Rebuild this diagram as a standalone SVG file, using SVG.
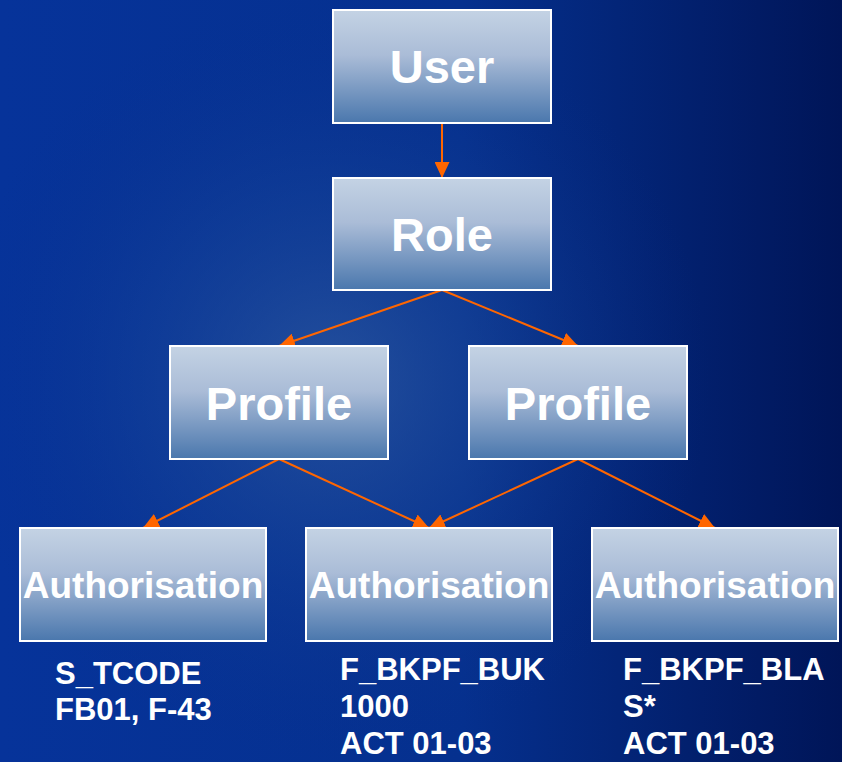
<svg xmlns="http://www.w3.org/2000/svg" width="842" height="762" viewBox="0 0 842 762">
  <defs>
    <linearGradient id="bg" x1="0" y1="0" x2="1" y2="0">
      <stop offset="0" stop-color="#06339a"/>
      <stop offset="0.55" stop-color="#05308e"/>
      <stop offset="1" stop-color="#001558"/>
    </linearGradient>
    <radialGradient id="glow" cx="330" cy="380" r="380" gradientUnits="userSpaceOnUse">
      <stop offset="0" stop-color="#2f5aa0" stop-opacity="0.75"/>
      <stop offset="0.5" stop-color="#1d4a9a" stop-opacity="0.35"/>
      <stop offset="1" stop-color="#0a2f8a" stop-opacity="0"/>
    </radialGradient>
    <linearGradient id="boxFill" x1="0" y1="0" x2="0" y2="1">
      <stop offset="0" stop-color="#c4d3e4"/>
      <stop offset="0.4" stop-color="#aabcd7"/>
      <stop offset="1" stop-color="#4a77ad"/>
    </linearGradient>
    <marker id="head" markerWidth="16" markerHeight="15" refX="16" refY="7.5" orient="auto" markerUnits="userSpaceOnUse">
      <path d="M0,0 L16,7.5 L0,15 Z" fill="#ff6600"/>
    </marker>
    <style>
      .box { fill: url(#boxFill); stroke: #ffffff; stroke-width: 2; }
      .label { fill: #ffffff; font-family: "Liberation Sans", Arial, sans-serif; font-weight: bold; text-anchor: middle; }
      .big { font-size: 47px; }
      .auth { font-size: 37px; }
      .note { fill: #ffffff; font-family: "Liberation Sans", Arial, sans-serif; font-weight: bold; font-size: 31px; }
      .link { stroke: #ff6600; stroke-width: 2; fill: none; marker-end: url(#head); }
    </style>
  </defs>

  <!-- backdrop -->
  <rect x="0" y="0" width="842" height="762" fill="url(#bg)"/>
  <rect x="0" y="0" width="842" height="762" fill="url(#glow)"/>

  <!-- connectors -->
  <g id="connectors">
    <line class="link" x1="442" y1="123" x2="442" y2="178"/>
    <line class="link" x1="442" y1="290" x2="279" y2="346"/>
    <line class="link" x1="442" y1="290" x2="578" y2="346"/>
    <line class="link" x1="279" y1="459" x2="143" y2="528"/>
    <line class="link" x1="279" y1="459" x2="429" y2="528"/>
    <line class="link" x1="578" y1="459" x2="429" y2="528"/>
    <line class="link" x1="578" y1="459" x2="715" y2="528"/>
  </g>

  <g id="user">
    <rect class="box" x="333" y="10" width="218" height="113"/>
    <text class="label big" x="442" y="83">User</text>
  </g>

  <g id="role">
    <rect class="box" x="333" y="178" width="218" height="112"/>
    <text class="label big" x="442" y="251">Role</text>
  </g>

  <g id="profile-1">
    <rect class="box" x="170" y="346" width="218" height="113"/>
    <text class="label big" x="279" y="420">Profile</text>
  </g>

  <g id="profile-2">
    <rect class="box" x="469" y="346" width="218" height="113"/>
    <text class="label big" x="578" y="420">Profile</text>
  </g>

  <g id="auth-1">
    <rect class="box" x="20" y="528" width="246" height="113"/>
    <text class="label auth" x="143" y="598">Authorisation</text>
  </g>

  <g id="auth-2">
    <rect class="box" x="306" y="528" width="246" height="113"/>
    <text class="label auth" x="429" y="598">Authorisation</text>
  </g>

  <g id="auth-3">
    <rect class="box" x="592" y="528" width="246" height="113"/>
    <text class="label auth" x="715" y="598">Authorisation</text>
  </g>

  <!-- authorisation object details -->
  <g id="details">
    <text class="note" x="55" y="684">S_TCODE</text>
    <text class="note" x="55" y="720">FB01, F-43</text>
    <text class="note" x="340" y="680">F_BKPF_BUK</text>
    <text class="note" x="340" y="717">1000</text>
    <text class="note" x="340" y="754">ACT 01-03</text>
    <text class="note" x="623" y="680">F_BKPF_BLA</text>
    <text class="note" x="623" y="717">S*</text>
    <text class="note" x="623" y="754">ACT 01-03</text>
  </g>
</svg>
